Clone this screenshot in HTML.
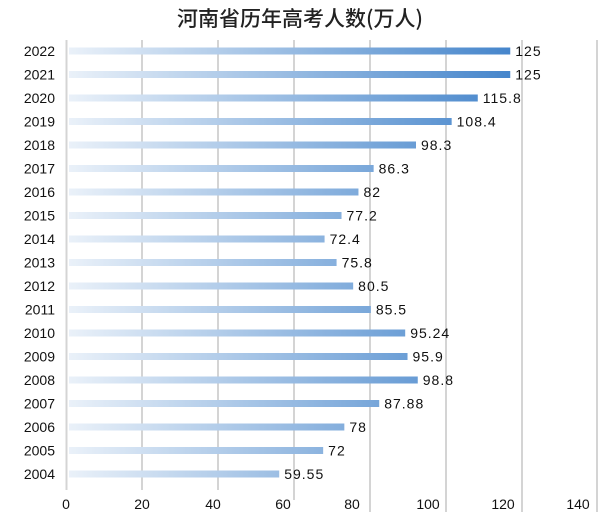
<!DOCTYPE html>
<html><head><meta charset="utf-8"><style>
body{margin:0;background:#fff;width:600px;height:516px;overflow:hidden}
svg text{font-family:"Liberation Sans","Noto Sans CJK SC",sans-serif;fill:#111}
</style></head><body>
<svg width="600" height="516" viewBox="0 0 600 516">
<defs><linearGradient id="g" gradientUnits="userSpaceOnUse" x1="69" x2="512" y1="0" y2="0">
<stop offset="0" stop-color="#eaf1f9"/><stop offset="1" stop-color="#4585cb"/></linearGradient></defs>
<text x="300" y="26" font-size="21" text-anchor="middle" style="fill:#222;font-family:'Noto Sans CJK SC',sans-serif;font-weight:500">河南省历年高考人数(万人)</text>
<g stroke="#d4d4d4" stroke-width="2">
<line x1="66.5" y1="40" x2="66.5" y2="490"/>
<line x1="142" y1="40" x2="142" y2="490"/>
<line x1="218" y1="40" x2="218" y2="490"/>
<line x1="294" y1="40" x2="294" y2="500"/>
<line x1="370" y1="40" x2="370" y2="512"/>
<line x1="446" y1="40" x2="446" y2="512"/>
<line x1="522" y1="40" x2="522" y2="512"/>
<line x1="597" y1="40" x2="597" y2="512"/>
</g>
<g font-size="14" text-anchor="middle">
<text x="66" y="509">0</text><text x="142" y="509">20</text><text x="213" y="509">40</text><text x="283" y="509">60</text><text x="352" y="509">80</text><text x="428" y="509">100</text><text x="503" y="509">120</text><text x="578" y="509">140</text>
</g>
<g id="bars" font-size="14"></g>
</svg>
<script>
var d=[[2022,125,"125"],[2021,125,"125"],[2020,115.8,"115.8"],[2019,108.4,"108.4"],[2018,98.3,"98.3"],[2017,86.3,"86.3"],[2016,82,"82"],[2015,77.2,"77.2"],[2014,72.4,"72.4"],[2013,75.8,"75.8"],[2012,80.5,"80.5"],[2011,85.5,"85.5"],[2010,95.24,"95.24"],[2009,95.9,"95.9"],[2008,98.8,"98.8"],[2007,87.88,"87.88"],[2006,78,"78"],[2005,72,"72"],[2004,59.55,"59.55"]];
var s='';d.forEach(function(r,i){var y=51+i*23.5,w=r[1]*3.53;
s+='<text x="55" y="'+(y+5)+'" text-anchor="end">'+r[0]+'</text>';
s+='<rect x="69" y="'+(y-3.5)+'" width="'+w+'" height="7" fill="url(#g)"/>';
s+='<text x="'+(69+w+5)+'" y="'+(y+5)+'" style="letter-spacing:1px">'+r[2]+'</text>';});
document.getElementById('bars').innerHTML=s;
</script>
</body></html>
